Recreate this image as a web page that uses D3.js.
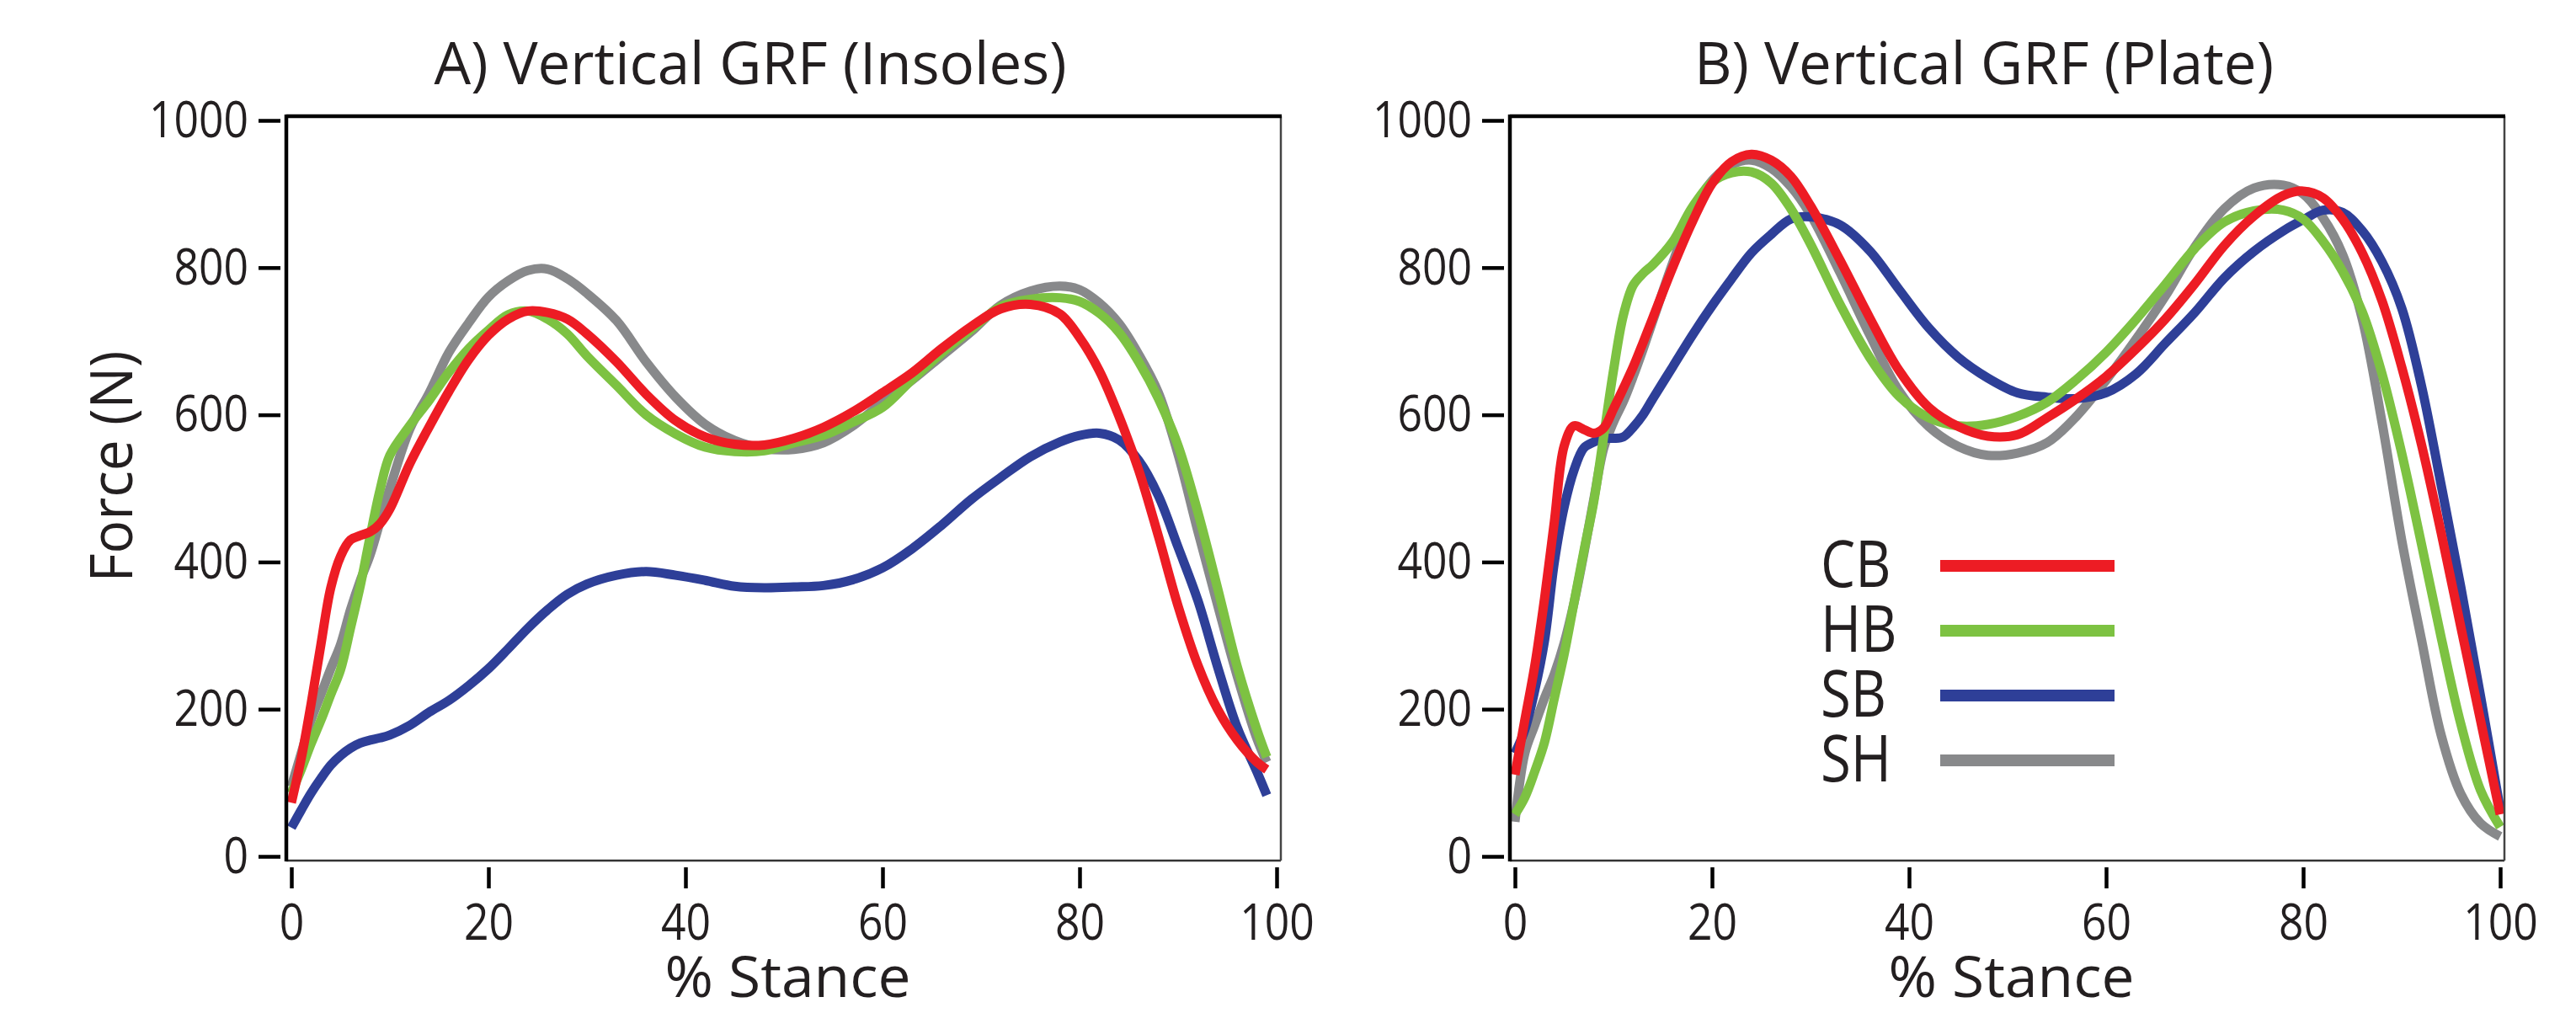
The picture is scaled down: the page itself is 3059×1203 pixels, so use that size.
<!DOCTYPE html>
<html>
<head>
<meta charset="utf-8">
<script src="https://cdn.jsdelivr.net/npm/d3@7"></script>
<style>
  body { margin: 0; background: #fff; }
  svg { display: block; }
  text { font-family: "Open Sans", "Noto Sans", sans-serif; fill: #231f20; }
</style>
</head>
<body>
<script>
var width = 3059,
    height = 1203;

var groups = ["CB", "HB", "SB", "SH"];
var colors = { CB: "#ed1c24", HB: "#7dc242", SB: "#2e3f98", SH: "#88898b" };
var drawOrder = ["SH", "SB", "HB", "CB"];
var yTicks = [0, 200, 400, 600, 800, 1000];
var xTicks = [0, 20, 40, 60, 80, 100];

// A) insoles, % stance vs force (N)
var stanceA = [0,1,2,3,4,5,6,7,8,9,10,12,14,16,18,20,22,24,26,28,30,33,36,39,42,45,48,51,54,57,60,63,66,69,72,75,78,80,82,84,86,88,90,92,94,96,98,99];
var insoleCB = [73,133,207,288,365,408,430,436,441,452,472,533,584,632,675,708,730,741,739,730,710,672,628,592,570,560,559,568,583,604,630,657,690,720,744,750,737,705,660,598,525,435,340,260,200,158,128,118];
var insoleHB = [86,118,153,185,220,254,310,368,435,498,545,585,620,658,690,715,736,741,730,710,680,640,600,574,556,550,551,562,572,590,610,648,684,716,747,757,759,754,738,712,672,622,558,468,365,258,172,135];
var insoleSB = [39,63,86,106,124,137,147,154,158,161,165,178,196,212,232,255,282,310,335,356,370,382,387,382,375,367,365,366,368,376,392,418,450,485,515,543,563,572,575,566,538,490,420,348,258,175,115,83];
var insoleSH = [95,140,185,220,255,288,335,375,410,455,500,580,630,685,725,760,782,796,798,785,765,728,672,624,587,565,554,553,562,585,617,647,680,713,749,768,775,770,752,724,682,630,546,442,342,245,160,128];

// B) force plate
var stanceB = [0,1,2,3,4,5,6,7,8,9,10,11,12,13,14,16,18,20,22,24,26,28,30,33,36,39,42,45,48,51,54,57,60,63,66,69,72,75,78,80,82,84,86,88,90,92,94,96,98,100];
var plateCB = [111,185,258,350,455,558,585,580,575,582,608,636,665,698,732,800,862,914,944,954,946,924,884,810,732,660,610,584,571,573,596,622,652,689,730,778,830,870,898,904,895,866,820,755,665,560,440,312,185,57];
var plateHB = [57,80,115,155,215,275,345,415,482,570,660,735,776,792,804,835,882,916,929,930,915,880,832,750,678,625,596,585,587,598,617,648,685,729,777,826,862,877,878,866,836,795,740,656,548,425,298,180,90,40];
var plateSB = [140,172,225,293,400,475,525,555,563,568,568,570,583,600,622,665,708,748,785,820,845,866,869,858,823,770,718,678,650,630,624,622,630,655,697,739,786,822,850,865,878,875,850,808,745,640,505,366,218,64];
var plateSH = [47,140,178,215,248,290,345,412,485,554,590,618,652,689,728,806,876,918,940,946,935,910,872,793,709,632,584,557,545,548,562,598,647,702,761,828,880,908,912,900,868,818,730,590,430,295,165,85,45,27];

var panels = [
  { title: "A) Vertical GRF (Insoles)", stance: stanceA,
    values: { CB: insoleCB, HB: insoleHB, SB: insoleSB, SH: insoleSH },
    x0: 346, titleX: 891, titleLen: 751, legend: false },
  { title: "B) Vertical GRF (Plate)", stance: stanceB,
    values: { CB: plateCB, HB: plateHB, SB: plateSB, SH: plateSH },
    x0: 1799, titleX: 2356, titleLen: 688, legend: true }
];

var svg = d3.select("body").append("svg")
    .attr("width", width)
    .attr("height", height);

svg.append("rect")
    .attr("width", width)
    .attr("height", height)
    .attr("fill", "#fff");

var y = d3.scaleLinear().domain([0, 1000]).range([1017, 143]);

// squeeze Open Sans a bit towards the narrower face of the original
function condense(sel, k) {
  sel.each(function() {
    var w = this.getComputedTextLength();
    d3.select(this).attr("textLength", w * k).attr("lengthAdjust", "spacingAndGlyphs");
  });
}

panels.forEach(function(p) {
  var x = d3.scaleLinear().domain([0, 100]).range([p.x0, p.x0 + 1170]);
  var g = svg.append("g");

  var left = x(0) - 6, right = x(100) + 5, top = y(1000) - 5, bottom = y(0) + 5;

  // curves
  var line = d3.line()
      .x(function(d, i) { return x(p.stance[i]); })
      .y(function(d) { return y(d); })
      .curve(d3.curveCatmullRom.alpha(0.5));

  drawOrder.forEach(function(k) {
    g.append("path")
        .datum(p.values[k])
        .attr("fill", "none")
        .attr("stroke", colors[k])
        .attr("stroke-width", 11)
        .attr("stroke-linejoin", "round")
        .attr("d", line);
  });

  // frame
  g.append("line").attr("x1", left).attr("x2", right).attr("y1", bottom).attr("y2", bottom)
      .attr("stroke", "#333").attr("stroke-width", 2.5);
  g.append("line").attr("x1", right).attr("x2", right).attr("y1", top).attr("y2", bottom)
      .attr("stroke", "#444").attr("stroke-width", 2.5);
  g.append("line").attr("x1", left).attr("x2", right + 1).attr("y1", top).attr("y2", top)
      .attr("stroke", "#000").attr("stroke-width", 4.5);
  g.append("line").attr("x1", left).attr("x2", left).attr("y1", top - 2).attr("y2", bottom + 1)
      .attr("stroke", "#000").attr("stroke-width", 4.5);

  // axes
  var yAxis = g.append("g")
      .attr("transform", "translate(" + (left - 7) + ",0)")
      .call(d3.axisLeft(y).tickValues(yTicks).tickSize(26).tickPadding(12).tickFormat(d3.format("d")));

  var xAxis = g.append("g")
      .attr("transform", "translate(0," + (bottom + 8) + ")")
      .call(d3.axisBottom(x).tickValues(xTicks).tickSize(25).tickPadding(18).tickFormat(d3.format("d")));

  [yAxis, xAxis].forEach(function(a) {
    a.select(".domain").remove();
    a.selectAll(".tick line").attr("stroke", "#000").attr("stroke-width", 4.5);
    a.selectAll(".tick text")
        .attr("fill", "#231f20")
        .style("font-family", "'Open Sans', sans-serif")
        .style("font-size", "60px");
    condense(a.selectAll(".tick text"), 0.86);
  });

  // title and axis titles
  g.append("text")
      .attr("x", p.titleX)
      .attr("y", 100)
      .attr("text-anchor", "middle")
      .attr("textLength", p.titleLen)
      .attr("lengthAdjust", "spacingAndGlyphs")
      .style("font-size", "70px")
      .text(p.title);

  g.append("text")
      .attr("x", (left + right) / 2 + 5)
      .attr("y", 1184)
      .attr("text-anchor", "middle")
      .attr("textLength", 292)
      .attr("lengthAdjust", "spacingAndGlyphs")
      .style("font-size", "68px")
      .text("% Stance");

  if (p.legend) {
    var leg = g.append("g");
    groups.forEach(function(k, i) {
      var by = 697 + i * 77;
      var t = leg.append("text")
          .attr("x", 2162)
          .attr("y", by)
          .style("font-size", "76px")
          .text(k);
      condense(t, 0.86);
      leg.append("line")
          .attr("x1", 2304).attr("x2", 2511)
          .attr("y1", by - 25).attr("y2", by - 25)
          .attr("stroke", colors[k])
          .attr("stroke-width", 14);
    });
  }
});

svg.append("text")
    .attr("transform", "translate(157,554) rotate(-90)")
    .attr("text-anchor", "middle")
    .attr("textLength", 275)
    .attr("lengthAdjust", "spacingAndGlyphs")
    .style("font-size", "70px")
    .text("Force (N)");
</script>
</body>
</html>
